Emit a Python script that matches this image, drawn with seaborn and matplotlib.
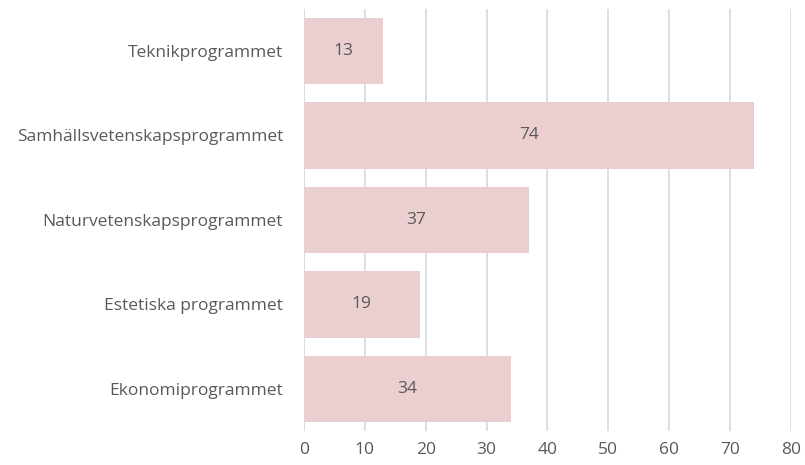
import matplotlib
matplotlib.use("Agg")
import matplotlib.pyplot as plt
import seaborn as sns
import pandas as pd

# Data
programs = [
    "Teknikprogrammet",
    "Samhällsvetenskapsprogrammet",
    "Naturvetenskapsprogrammet",
    "Estetiska programmet",
    "Ekonomiprogrammet",
]
counts = [13, 74, 37, 19, 34]
x_ticks = [0, 10, 20, 30, 40, 50, 60, 70, 80]

BAR_COLOR = "#ebcfd0"
GRID_COLOR = "#d9d9d9"
TEXT_COLOR = "#595959"
FONT_SIZE = 12.5

sns.set_style("white")
plt.rcParams["font.family"] = ["Open Sans", "DejaVu Sans"]

df = pd.DataFrame({"program": programs, "count": counts})

fig = plt.figure(figsize=(8.05, 4.65), dpi=100)
ax = fig.add_axes([0.3776, 0.0726, 0.605, 0.9086])

sns.barplot(data=df, x="count", y="program", color=BAR_COLOR,
            saturation=1, width=0.79, linewidth=0, ax=ax, zorder=2)

# value labels in the middle of each bar
for i, v in enumerate(counts):
    ax.text(v / 2, i, str(v), ha="center", va="center",
            fontsize=FONT_SIZE, color=TEXT_COLOR, zorder=3)

ax.set_xlim(0, 80)
ax.set_ylim(4.5, -0.5)
ax.set_xticks(x_ticks)
ax.xaxis.grid(True, color=GRID_COLOR, linewidth=1.2, zorder=0)
ax.set_axisbelow(True)
for s in ax.spines.values():
    s.set_visible(False)
ax.axvline(0, color=GRID_COLOR, linewidth=1.2, zorder=3)

ax.set_xlabel("")
ax.set_ylabel("")
ax.tick_params(axis="x", length=5, color=GRID_COLOR, width=1.2,
               labelsize=FONT_SIZE, labelcolor=TEXT_COLOR, pad=3)
ax.tick_params(axis="y", length=0, labelsize=FONT_SIZE, labelcolor=TEXT_COLOR, pad=15)

fig.savefig("out.png", dpi=100)
